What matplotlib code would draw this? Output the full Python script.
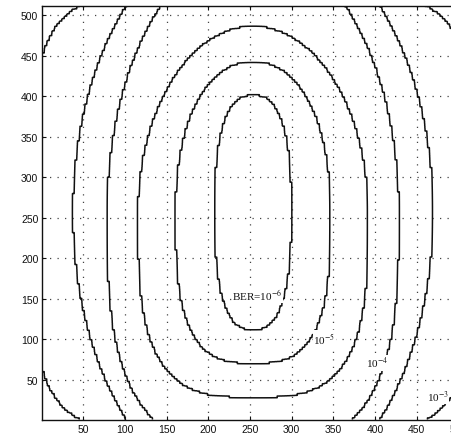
import numpy as np
import matplotlib.pyplot as plt

plt.rcParams['mathtext.fontset'] = 'stix'

# contour outlines (pixel units of the 512x512 frame), innermost first
centre_x, centre_y = 254, 257
half_width = [46, 93, 138, 175, 216, 262]
half_height_top = [145, 186, 230, 330, 360, 275]
half_height_bot = [145, 186, 228, 290, 360, 275]
exp_top = [2.6, 2.2, 2.0, 2.0, 2.0, 5.0]
exp_bot = [2.6, 3.0, 3.2, 3.0, 2.0, 5.0]

# labels written on the chart
ber_labels = ['BER=10$^{-6}$', '10$^{-5}$', '10$^{-4}$', '10$^{-3}$']
label_x = [259, 339, 402, 475]
label_y = [155, 101, 71, 30]

xticks = list(range(50, 501, 50))
yticks = list(range(50, 501, 50))
n_pix = 512
block = 3  # the map was computed on coarse blocks, hence the stair-step edges


def ber_map():
    """Build a smooth level field whose contour k follows outline k."""
    x = np.arange(1, n_pix + 1)
    X, Y = np.meshgrid(x, x)
    Xq = (np.floor((X - 1) / block) + 0.5) * block + 1
    Yq = (np.floor((Y - 1) / block) + 0.5) * block + 1
    dx = np.abs(Xq - centre_x)
    dy = Yq - centre_y
    up = dy >= 0

    R = []
    for k in range(len(half_width)):
        b = np.where(up, half_height_top[k], half_height_bot[k])
        p = np.where(up, exp_top[k], exp_bot[k])
        R.append(((dx / half_width[k]) ** p + (np.abs(dy) / b) ** p) ** (1 / p))
    R = np.array(R)
    K = len(R)

    j = K - (R < 1).sum(axis=0)
    r_out = np.take_along_axis(R, np.clip(j - 1, 0, K - 1)[None], 0)[0]
    r_in = np.take_along_axis(R, np.clip(j, 0, K - 1)[None], 0)[0]
    with np.errstate(divide='ignore', invalid='ignore'):
        F = (j - 1) + (r_out - 1) / (r_out - r_in)
    F = np.where(j == 0, R[0] - 1, F)
    F = np.where(j == K, K - 1 + R[-1] - 1, F)
    return x, F


def main():
    x, F = ber_map()

    fig = plt.figure(figsize=(4.52, 4.39), dpi=100)
    ax = fig.add_axes([0.094, 0.042, 0.9425, 0.943])

    ax.contour(x, x, F, levels=np.arange(len(half_width)),
               colors='#111111', linewidths=1.1)

    for s, lx, ly in zip(ber_labels, label_x, label_y):
        ax.text(lx, ly, s, fontsize=8, family='Liberation Serif',
                ha='center', va='center', color='#111',
                bbox=dict(fc='white', ec='none', pad=0.6))

    ax.set_xlim(1, n_pix)
    ax.set_ylim(1, n_pix)
    ax.set_xticks(xticks)
    ax.set_yticks(yticks)
    ax.grid(True, linestyle=(0, (1, 5)), color='#444', linewidth=0.9)
    ax.tick_params(direction='in', length=3, labelsize=7.5, pad=3,
                   top=True, right=True, colors='#111')
    for lab in ax.get_xticklabels() + ax.get_yticklabels():
        lab.set_family('Liberation Sans')
    for sp in ax.spines.values():
        sp.set_linewidth(1.0)
        sp.set_color('#111')

    fig.savefig('out.png', dpi=100)


if __name__ == "__main__":
    main()
